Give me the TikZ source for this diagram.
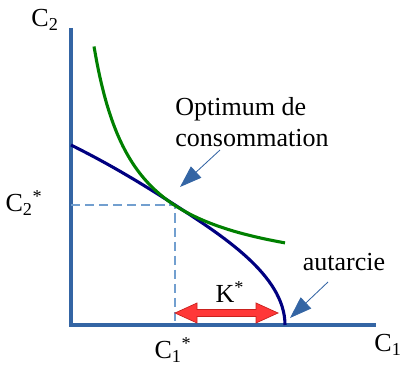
\documentclass[tikz,border=0pt]{standalone}
\usepackage{fontspec}
\setmainfont{Liberation Serif}
\usetikzlibrary{arrows.meta, calc}
\definecolor{cAxis}{RGB}{52,101,164}
\definecolor{cDash}{RGB}{114,159,207}
\definecolor{cNavy}{RGB}{0,0,128}
\definecolor{cGreen}{RGB}{0,128,0}
\definecolor{cRed}{RGB}{255,56,56}
\definecolor{cRedDark}{RGB}{201,33,30}
\tikzset{
	axis/.style     ={cAxis, line width=2.2pt},
	guide/.style    ={cDash, line width=0.9pt, dash pattern=on 6.5pt off 3.5pt},
	frontier/.style ={cNavy, line width=2.2pt},
	indiff/.style   ={cGreen, line width=2.2pt},
	callout/.style  ={cAxis, line width=0.6pt, -{Triangle[length=5.5mm, width=3.8mm]}},
	lbl/.style      ={inner sep=0pt, font=\fontsize{18.5}{22}\selectfont},
}
\begin{document}
\begin{tikzpicture}[x=0.025cm, y=0.025cm]
			\useasboundingbox (-71,-44) rectangle (331,325);
			% axes
			\coordinate (O) at (0,0);
			\coordinate (ytop) at (0,297);
			\coordinate (xend) at (305,0);
			\draw[axis] (ytop) -- (O) -- (xend);
			\node[lbl] (c2) at (-26,305) {C\textsubscript{2}};
			\node[lbl] (c1) at (317,-20) {C\textsubscript{1}};
			% optimum and guides
			\coordinate (opt) at (104,120);
			\coordinate (aut) at (214,0);
			\draw[guide] (O |- opt) -- (opt) -- (opt |- O);
			\node[lbl] (c2s) at (-47,122) {C\textsubscript{2}\textsuperscript{*}};
			\node[lbl] (c1s) at (102,-25) {C\textsubscript{1}\textsuperscript{*}};
			% frontier and indifference curve
			\draw[frontier] (0,180) .. controls (40,160) and (68,143) .. (opt)
				.. controls (150,90) and (214,50) .. (aut);
			\draw[indiff] plot[domain=23:214, samples=60, smooth] (\x, {41+9500/(\x+17)});
			% K* double arrow
			\filldraw[fill=cRed, draw=cRedDark, line width=0.5pt]
				(104,12) -- (126,22) -- (126,15.5) -- (185,15.5) -- (185,22) -- (207,12)
				-- (185,2) -- (185,8.5) -- (126,8.5) -- (126,2) -- cycle;
			\node[lbl] (k) at (159,33) {K\textsuperscript{*}};
			% callouts
			\node[lbl, align=left] (optlbl) at (181,203) {Optimum de\\consommation};
			\node[lbl] (autlbl) at (273,63) {autarcie};
			\coordinate (optfrom) at (149,175);
			\coordinate (optto) at (109,138);
			\coordinate (autfrom) at (257,43);
			\coordinate (autto) at (219,7);
			\draw[callout] (optfrom) -- (optto);
			\draw[callout] (autfrom) -- (autto);
		\end{tikzpicture}
\end{document}
